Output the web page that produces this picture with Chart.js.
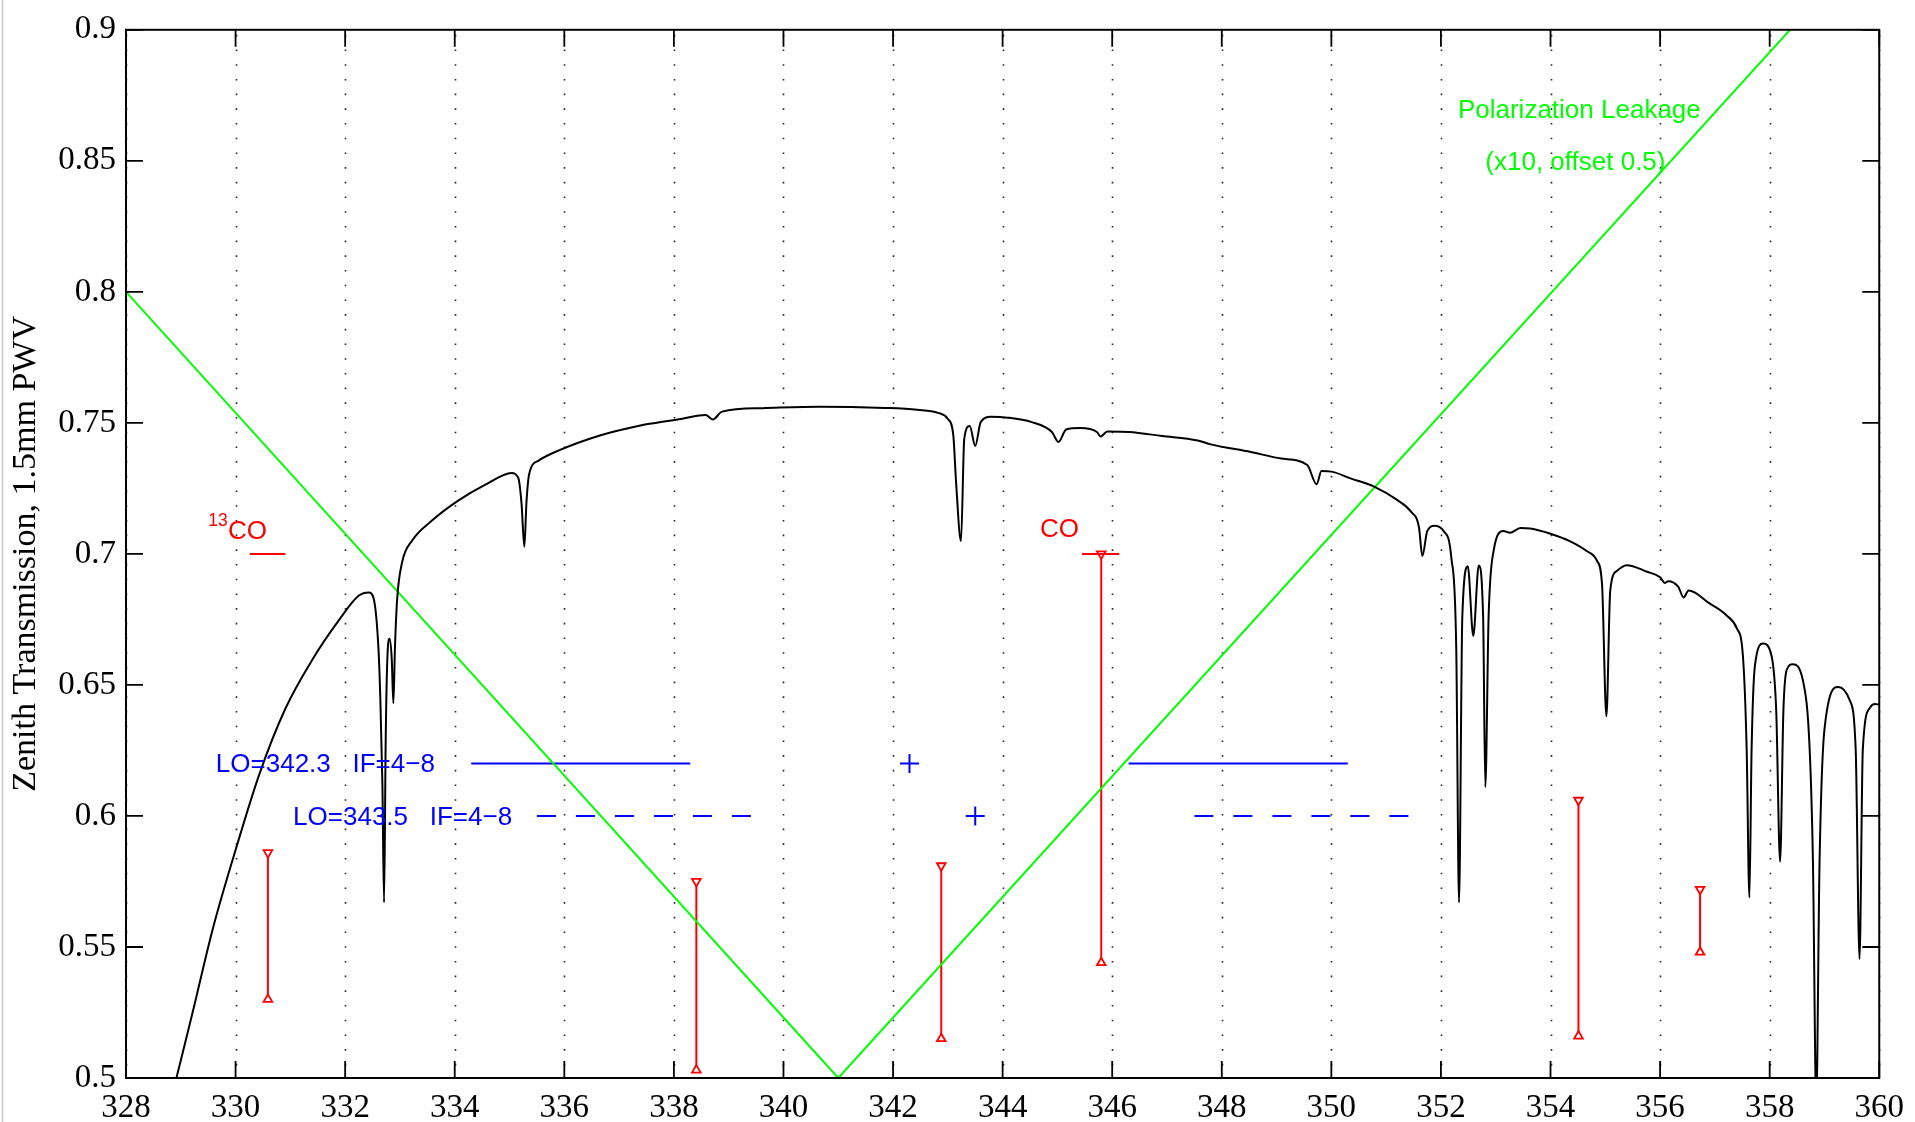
<!DOCTYPE html>
<html>
<head>
<meta charset="utf-8">
<script src="https://cdn.jsdelivr.net/npm/chart.js@4.4.0/dist/chart.umd.min.js"></script>
<style>
  html, body { margin: 0; padding: 0; background: #fff; }
  canvas { display: block; }
</style>
</head>
<body>
<canvas id="c" width="1915" height="1122"></canvas>
<script>
// atmospheric transmission, 1.5mm PWV
const atmFreq = [
  328.92, 329.21, 329.58, 330.00, 330.43, 330.91, 331.40, 331.89, 332.25, 332.43,
  332.52, 332.61, 332.64, 332.68, 332.71, 332.74, 332.77, 332.81, 332.85, 332.88,
  332.91, 332.95, 333.04, 333.22, 333.59, 334.07, 334.56, 335.04, 335.16, 335.22,
  335.27, 335.31, 335.36, 335.53, 335.89, 336.65, 337.39, 337.60, 338.13, 338.58,
  338.71, 338.88, 339.62, 340.66, 341.85, 342.44, 342.82, 343.00, 343.10, 343.15,
  343.24, 343.30, 343.40, 343.50, 343.60, 343.79, 344.09, 344.53, 344.90, 345.02,
  345.16, 345.42, 345.72, 345.79, 345.91, 346.31, 346.91, 347.56, 347.80, 348.53,
  349.08, 349.56, 349.73, 349.82, 350.00, 350.35, 350.78, 351.20, 351.45, 351.60,
  351.66, 351.75, 351.88, 352.05, 352.19, 352.28, 352.33, 352.39, 352.49, 352.59,
  352.69, 352.77, 352.81, 352.87, 352.96, 353.14, 353.26, 353.45, 353.63, 354.00,
  354.36, 354.66, 354.85, 354.94, 355.02, 355.09, 355.21, 355.39, 355.76, 356.00,
  356.09, 356.15, 356.33, 356.43, 356.52, 356.91, 357.21, 357.40, 357.51, 357.58,
  357.63, 357.67, 357.73, 357.88, 358.03, 358.12, 358.19, 358.25, 358.31, 358.42,
  358.61, 358.73, 358.79, 358.85, 358.91, 359.00, 359.25, 359.46, 359.57, 359.64,
  359.70, 359.83, 359.92, 360.00
]
const atmTrans = [
  0.500, 0.5245, 0.5566, 0.587, 0.6157, 0.641, 0.6596, 0.6748, 0.6841, 0.6853,
  0.683, 0.663, 0.646, 0.612, 0.567, 0.629, 0.660, 0.6676, 0.660, 0.643,
  0.665, 0.683, 0.6968, 0.705, 0.7128, 0.7204, 0.7264, 0.7309, 0.729, 0.719,
  0.7027, 0.720, 0.7306, 0.7356, 0.7394, 0.7452, 0.749, 0.7498, 0.7515, 0.753,
  0.7513, 0.7543, 0.7556, 0.7562, 0.7557, 0.755, 0.7538, 0.7515, 0.7452, 0.7275,
  0.7048, 0.744, 0.7488, 0.7412, 0.7503, 0.7523, 0.752, 0.7503, 0.7465, 0.7427,
  0.7475, 0.748, 0.7465, 0.7448, 0.7467, 0.7465, 0.745, 0.7433, 0.7418, 0.7389,
  0.7364, 0.7339, 0.7266, 0.7316, 0.7314, 0.7288, 0.7257, 0.7206, 0.7162, 0.710,
  0.6992, 0.7087, 0.7107, 0.7087, 0.6985, 0.6632, 0.567, 0.6759, 0.6953, 0.6687,
  0.6956, 0.676, 0.611, 0.676, 0.701, 0.7087, 0.7081, 0.7099, 0.7097, 0.7077,
  0.7048, 0.7011, 0.6973, 0.6885, 0.638, 0.686, 0.6935, 0.6957, 0.6932, 0.6911,
  0.6889, 0.6896, 0.6875, 0.6834, 0.686, 0.681, 0.6766, 0.6716, 0.6615, 0.6254,
  0.5689, 0.6254, 0.6572, 0.6658, 0.6615, 0.6399, 0.5825, 0.6399, 0.6557, 0.6579,
  0.6514, 0.6254, 0.5822, 0.490, 0.582, 0.633, 0.6492, 0.6442, 0.6254, 0.5454,
  0.6254, 0.6413, 0.6427, 0.6425
]

// polarization leakage (x10, offset 0.5)
const leakFreq = [328, 341, 360]
const leakVal = [0.8, 0.5, 0.9375]

// spectral lines: frequency, bar bottom, bar top
const lineFreq = [330.59, 338.41, 342.88, 345.80, 354.51, 356.73]
const lineLow = [0.530, 0.503, 0.515, 0.544, 0.516, 0.548]
const lineHigh = [0.586, 0.575, 0.581, 0.700, 0.606, 0.572]

// marker ticks under the 13CO and CO labels
const co13Mark = [330.26, 330.91]
const coMark = [345.45, 346.13]
const markLevel = 0.7

// LO settings and the IF sidebands
const loFreq = [342.3, 343.5]
const loLevel = [0.62, 0.60]
const sidebandsA = [[334.3, 338.3], [346.3, 350.3]]
const sidebandsB = [[335.5, 339.5], [347.5, 351.5]]

const RED = '#ff0000'
const BLUE = '#0000ff'
const GREEN = '#00ff00'
const SANS = '"Liberation Sans", Arial, sans-serif'
const SERIF = '"Liberation Serif", "Times New Roman", serif'

const segment = (xs, y, color, dash) => ({
  data: xs.map(x => ({ x, y })),
  borderColor: color,
  borderWidth: 2,
  borderDash: dash || [],
  pointRadius: 0,
  tension: 0,
})

const datasets = []

datasets.push({
  data: atmFreq.map((x, i) => ({ x, y: atmTrans[i] })),
  borderColor: '#000',
  borderWidth: 2,
  pointRadius: 0,
  cubicInterpolationMode: 'monotone',
})

datasets.push({
  data: leakFreq.map((x, i) => ({ x, y: leakVal[i] })),
  borderColor: GREEN,
  borderWidth: 2,
  pointRadius: 0,
  tension: 0,
})

sidebandsA.forEach(sb => datasets.push(segment(sb, loLevel[0], BLUE)))
sidebandsB.forEach(sb => datasets.push(segment(sb, loLevel[1], BLUE, [19, 20])))

datasets.push({
  data: loFreq.map((x, i) => ({ x, y: loLevel[i] })),
  showLine: false,
  pointStyle: 'cross',
  pointRadius: 9.5,
  pointBorderWidth: 2,
  pointBorderColor: BLUE,
})

datasets.push(segment(co13Mark, markLevel, RED))
datasets.push(segment(coMark, markLevel, RED))

lineFreq.forEach((f, i) => {
  datasets.push({
    data: [{ x: f, y: lineLow[i] }, { x: f, y: lineHigh[i] }],
    borderColor: RED,
    borderWidth: 2,
    tension: 0,
    pointStyle: 'triangle',
    pointRotation: [0, 180],
    pointRadius: 5,
    pointBorderWidth: 1.8,
    pointBorderColor: RED,
    pointBackgroundColor: '#fff',
  })
})

// text placed in data coordinates
const notes = [
  { text: 'LO=342.3   IF=4\u22128', x: 329.64, y: 0.6166, color: BLUE, size: 26 },
  { text: 'LO=343.5   IF=4\u22128', x: 331.05, y: 0.5966, color: BLUE, size: 26 },
  { text: 'Polarization Leakage', x: 352.31, y: 0.8663, color: GREEN, size: 26 },
  { text: '(x10, offset 0.5)', x: 352.81, y: 0.8465, color: GREEN, size: 26 },
  { text: '13', x: 329.50, y: 0.7108, color: RED, size: 17.5 },
  { text: 'CO', x: 329.86, y: 0.7055, color: RED, size: 26 },
  { text: 'CO', x: 344.68, y: 0.7065, color: RED, size: 26 },
]

const framePlugin = {
  id: 'frame',
  beforeDatasetsDraw(chart) {
    const { ctx, chartArea: a, scales: { x } } = chart
    ctx.save()
    ctx.strokeStyle = '#222'
    ctx.lineWidth = 1.6
    ctx.setLineDash([1.6, 13.1])
    ctx.lineDashOffset = 9.7
    x.ticks.forEach(t => {
      const px = Math.round(x.getPixelForValue(t.value)) + 0.5
      ctx.beginPath()
      ctx.moveTo(px, a.top)
      ctx.lineTo(px, a.bottom)
      ctx.stroke()
    })
    ctx.restore()
  },
  afterDatasetsDraw(chart) {
    const { ctx, chartArea: a, scales: { x, y } } = chart
    ctx.save()
    // notes
    ctx.textBaseline = 'alphabetic'
    ctx.textAlign = 'left'
    notes.forEach(n => {
      ctx.fillStyle = n.color
      ctx.font = n.size + 'px ' + SANS
      ctx.fillText(n.text, x.getPixelForValue(n.x), y.getPixelForValue(n.y))
    })
    // frame and inward ticks
    ctx.strokeStyle = '#000'
    ctx.lineWidth = 2
    ctx.strokeRect(a.left, a.top, a.right - a.left, a.bottom - a.top)
    ctx.lineWidth = 1.8
    const tl = 17
    x.ticks.forEach(t => {
      const px = x.getPixelForValue(t.value)
      ctx.beginPath()
      ctx.moveTo(px, a.bottom); ctx.lineTo(px, a.bottom - tl)
      ctx.moveTo(px, a.top); ctx.lineTo(px, a.top + tl)
      ctx.stroke()
    })
    y.ticks.forEach(t => {
      const py = y.getPixelForValue(t.value)
      ctx.beginPath()
      ctx.moveTo(a.left, py); ctx.lineTo(a.left + tl, py)
      ctx.moveTo(a.right, py); ctx.lineTo(a.right - tl, py)
      ctx.stroke()
    })
    // faint page edge on the left
    ctx.strokeStyle = '#c8c8c8'
    ctx.lineWidth = 1.5
    ctx.beginPath()
    ctx.moveTo(2.5, 0); ctx.lineTo(2.5, chart.height)
    ctx.stroke()
    ctx.restore()
  },
}

new Chart(document.getElementById('c'), {
  type: 'line',
  data: { datasets },
  options: {
    responsive: false,
    devicePixelRatio: 1,
    animation: false,
    events: [],
    layout: { padding: { left: 0, top: 21, right: 32, bottom: 0 } },
    plugins: { legend: { display: false }, tooltip: { enabled: false } },
    scales: {
      x: {
        type: 'linear',
        min: 328,
        max: 360,
        afterFit: s => { s.height = 44 },
        grid: { display: false, drawTicks: false },
        border: { display: false },
        ticks: {
          stepSize: 2,
          autoSkip: false,
          maxRotation: 0,
          padding: 11,
          color: '#000',
          font: { family: SERIF, size: 33 },
        },
      },
      y: {
        type: 'linear',
        min: 0.5,
        max: 0.9,
        afterFit: s => { s.width = 126 },
        grid: { display: false, drawTicks: false },
        border: { display: false },
        title: {
          display: true,
          text: 'Zenith Transmission, 1.5mm PWV',
          color: '#000',
          font: { family: SERIF, size: 34 },
          padding: { top: 6, bottom: 0 },
        },
        ticks: {
          stepSize: 0.05,
          padding: 10,
          color: '#000',
          font: { family: SERIF, size: 33 },
          callback: v => String(+v.toFixed(2)),
        },
      },
    },
  },
  plugins: [framePlugin],
})
</script>
</body>
</html>
